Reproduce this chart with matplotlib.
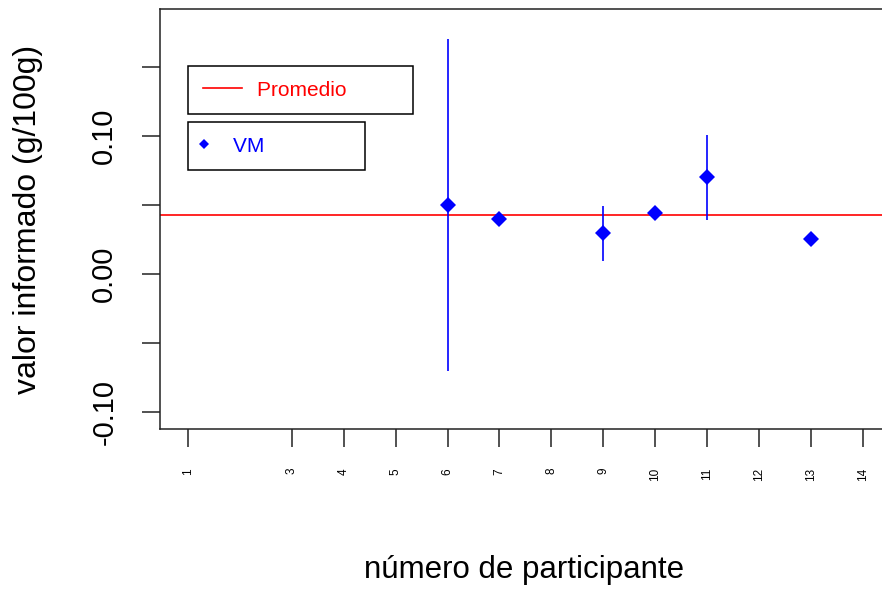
import numpy as np
import matplotlib
matplotlib.use('Agg')
from matplotlib import pyplot as plt
from matplotlib.lines import Line2D

# participant data
participants = [6, 7, 9, 10, 11, 13]
values = [0.050, 0.040, 0.0295, 0.0445, 0.070, 0.025]
errors = [0.120, 0.004, 0.020, 0.003, 0.031, 0.0]
promedio = 0.0428

xticks = [1, 3, 4, 5, 6, 7, 8, 9, 10, 11, 12, 13, 14]
yticks = [-0.10, -0.05, 0.00, 0.05, 0.10, 0.15]
ylabels = ['-0.10', '', '0.00', '', '0.10', '']

plt.rcParams['font.family'] = ['Liberation Sans', 'DejaVu Sans']

fig = plt.figure(figsize=(8.82, 5.89), dpi=100)
ax = fig.add_axes([160/882, 1-429/589, 737/882, 420/589])

ax.axhline(promedio, color='red', lw=1.2, zorder=2)
ax.errorbar(participants, values, yerr=errors, fmt='none', ecolor='blue',
            elinewidth=1.2, capsize=0, zorder=3)
ax.plot(participants, values, 'D', color='blue', ms=8, mew=0, zorder=4)

ax.set_xlim(0.46, 14.66)
ax.set_ylim(-0.1123, 0.192)

ax.set_xticks(xticks)
ax.set_xticklabels([str(t) for t in xticks], rotation=90, fontsize=8.5)
ax.set_yticks(yticks)
ax.set_yticklabels(ylabels, rotation=90, va='center', fontsize=21)
ax.tick_params(axis='both', length=13, width=1.1, color='#222222')
ax.tick_params(axis='x', pad=15)
ax.tick_params(axis='y', pad=17)

for s in ax.spines.values():
    s.set_linewidth(1.1)
    s.set_color('#222222')

ax.set_ylabel('valor informado (g/100g)', fontsize=23)
ax.yaxis.set_label_coords(-0.159, 0.5)
ax.set_xlabel('número de participante', fontsize=22.5)
ax.xaxis.set_label_coords(0.494, -0.30)

h1 = Line2D([], [], color='red', lw=1.2)
leg1 = ax.legend([h1], ['Promedio' + ' ' * 9], loc='upper left',
                 bbox_to_anchor=(188/882, 1-66/589), bbox_transform=fig.transFigure,
                 borderaxespad=0, fontsize=15, handlelength=1.9, handletextpad=0.7,
                 borderpad=0.7, fancybox=False, framealpha=1, edgecolor='black',
                 labelcolor='red')
leg1.get_frame().set_linewidth(1.1)
ax.add_artist(leg1)

h2 = Line2D([], [], marker='D', color='blue', ls='none', ms=5.5, mew=0)
leg2 = ax.legend([h2], ['VM' + ' ' * 15], loc='upper left',
                 bbox_to_anchor=(188/882, 1-122/589), bbox_transform=fig.transFigure,
                 borderaxespad=0, fontsize=15, handlelength=0.1, handletextpad=1.37,
                 borderpad=0.7, fancybox=False, framealpha=1, edgecolor='black',
                 labelcolor='blue')
leg2.get_frame().set_linewidth(1.1)

fig.savefig('out.png', dpi=100)
